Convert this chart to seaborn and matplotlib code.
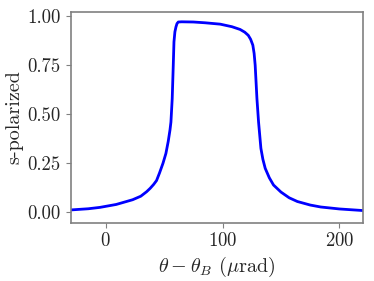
import matplotlib
matplotlib.use('Agg')
import matplotlib.pyplot as plt
import pandas as pd
import seaborn as sns

# Values
theta = [-30, -15, -5, 9, 23, 30, 35, 38, 41, 43.5, 46, 49, 51.5, 53.5, 55, 55.8,
         56.9, 57.8, 58.4, 59.2, 60.1, 61, 62.1, 65, 75, 85, 98, 108, 115, 119, 122,
         124, 125.9, 127, 127.9, 128.7, 129.4, 130.8, 132.8, 134.5, 136.5, 140, 143.6,
         150, 157, 164, 175, 184, 200, 220]
refl = [0.012, 0.018, 0.025, 0.040, 0.064, 0.082, 0.105, 0.122, 0.142, 0.162, 0.200,
        0.250, 0.300, 0.362, 0.420, 0.460, 0.580, 0.750, 0.869, 0.920, 0.945, 0.962,
        0.970, 0.971, 0.970, 0.966, 0.959, 0.946, 0.932, 0.918, 0.902, 0.882, 0.852,
        0.810, 0.750, 0.660, 0.580, 0.460, 0.326, 0.270, 0.224, 0.176, 0.139, 0.103,
        0.074, 0.055, 0.037, 0.027, 0.017, 0.009]

df = pd.DataFrame({'theta': theta, 'refl': refl})

sns.set_style('ticks')
plt.rcParams['font.family'] = 'serif'
plt.rcParams['font.serif'] = ['cmr10', 'DejaVu Serif']
plt.rcParams['mathtext.fontset'] = 'cm'
plt.rcParams['axes.formatter.use_mathtext'] = True

fig, ax = plt.subplots(figsize=(3.74, 2.81), dpi=100)
fig.subplots_adjust(left=0.189, right=0.970, top=0.958, bottom=0.2075)

sns.lineplot(data=df, x='theta', y='refl', ax=ax, color='blue', linewidth=2, sort=False)

ax.set_xlim(-30, 220)
ax.set_ylim(-0.053, 1.022)
ax.set_xticks([0, 100, 200])
ax.set_yticks([0.0, 0.25, 0.5, 0.75, 1.0])
ax.yaxis.set_major_formatter(matplotlib.ticker.FormatStrFormatter('%.2f'))
ax.set_xlabel(r'$\theta - \theta_B$ ($\mu$rad)', fontsize=14.5, labelpad=3)
ax.set_ylabel('s-polarized', fontsize=14.5, labelpad=3)
ax.tick_params(labelsize=13.5, color='gray', length=3.5)
for s in ax.spines.values():
    s.set_color('gray')
    s.set_linewidth(1.2)

fig.savefig('out.png', dpi=100)
